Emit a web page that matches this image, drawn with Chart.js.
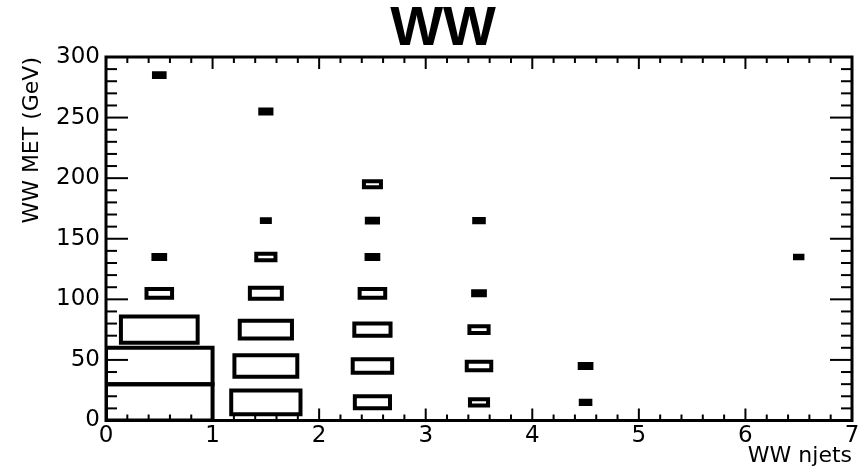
<!DOCTYPE html>
<html>
<head>
<meta charset="utf-8">
<title>WW</title>
<script src="https://cdn.jsdelivr.net/npm/chart.js@4.4.0/dist/chart.umd.min.js"></script>
<style>
  html, body { margin: 0; padding: 0; background: #fff; }
  #wrap { width: 865px; height: 467px; }
</style>
</head>
<body>
<div id="wrap"><canvas id="wwChart"></canvas></div>
<script>
// bin edges: njets in steps of 1, MET in steps of 30 GeV
const njetEdges = [0, 1, 2, 3, 4, 5, 6, 7];
const metEdges = [0, 30, 60, 90, 120, 150, 180, 210, 240, 270, 300];

// bin contents per njets bin, MET bins from low to high
const njet0 = [100, 100, 72, 24, 11, 0, 0, 0, 0, 10];
const njet1 = [65, 59, 49, 30, 18, 7.5, 0, 0, 10.5, 0];
const njet2 = [33, 37, 34, 24, 11, 10.5, 16, 0, 0, 0];
const njet3 = [17, 23, 18, 11, 0, 9, 0, 0, 0, 0];
const njet4 = [9, 11, 0, 0, 0, 0, 0, 0, 0, 0];
const njet5 = [0, 0, 0, 0, 0, 0, 0, 0, 0, 0];
const njet6 = [0, 0, 0, 0, 7, 0, 0, 0, 0, 0];
const zMax = 100;

// axis ticks
const xTicks = [0, 1, 2, 3, 4, 5, 6, 7];
const yTicks = [0, 50, 100, 150, 200, 250, 300];
const xMinorStep = 0.2;
const yMinorStep = 10;

const columns = [njet0, njet1, njet2, njet3, njet4, njet5, njet6];

// one closed outline per filled bin, size proportional to the content
const boxes = [];
columns.forEach((col, i) => {
  col.forEach((z, j) => {
    if (z <= 0) return;
    const xc = (njetEdges[i] + njetEdges[i + 1]) / 2;
    const yc = (metEdges[j] + metEdges[j + 1]) / 2;
    const dx = ((njetEdges[i + 1] - njetEdges[i]) / 2) * (z / zMax);
    const dy = ((metEdges[j + 1] - metEdges[j]) / 2) * (z / zMax);
    boxes.push({
      data: [
        { x: xc - dx, y: yc - dy },
        { x: xc + dx, y: yc - dy },
        { x: xc + dx, y: yc + dy },
        { x: xc - dx, y: yc + dy },
        { x: xc - dx, y: yc - dy },
      ],
      showLine: true,
      fill: false,
      borderColor: "#000",
      borderWidth: 4,
      borderJoinStyle: "miter",
      borderCapStyle: "square",
      pointRadius: 0,
      tension: 0,
    });
  });
});

// frame with inward ticks on all four sides
const frameTicks = {
  id: "frameTicks",
  afterDatasetsDraw(chart) {
    const { ctx, chartArea: a, scales } = chart;
    const x = scales.x, y = scales.y;
    const seg = (x1, y1, x2, y2) => {
      ctx.beginPath();
      ctx.moveTo(x1, y1);
      ctx.lineTo(x2, y2);
      ctx.stroke();
    };
    ctx.save();
    ctx.strokeStyle = "#000";
    ctx.lineWidth = 2;
    const nx = Math.round((x.max - x.min) / xMinorStep);
    for (let k = 0; k <= nx; k++) {
      const px = x.getPixelForValue(x.min + k * xMinorStep);
      const len = k % 5 === 0 ? 12 : 6;
      seg(px, a.bottom, px, a.bottom - len);
      seg(px, a.top, px, a.top + len);
    }
    const ny = Math.round((y.max - y.min) / yMinorStep);
    for (let k = 0; k <= ny; k++) {
      const py = y.getPixelForValue(y.min + k * yMinorStep);
      const len = k % 5 === 0 ? 22 : 11;
      seg(a.left, py, a.left + len, py);
      seg(a.right, py, a.right - len, py);
    }
    ctx.lineWidth = 3;
    ctx.strokeRect(a.left, a.top, a.right - a.left, a.bottom - a.top);
    ctx.restore();
  },
};

const tickFont = { family: "DejaVu Sans", size: 23 };
const titleFont = { family: "DejaVu Sans", size: 22, lineHeight: 1 };

const chart = new Chart(document.getElementById("wwChart"), {
  type: "scatter",
  data: { datasets: boxes },
  options: {
    responsive: true,
    maintainAspectRatio: false,
    animation: false,
    events: [],
    layout: { padding: { left: 34, right: 13, top: 0, bottom: 0 } },
    plugins: {
      legend: { display: false },
      tooltip: { enabled: false },
      title: {
        display: true,
        text: "WW",
        color: "#000",
        font: { family: "Liberation Sans", size: 56, weight: "bold", lineHeight: 0.9 },
        padding: { top: 4, bottom: 2.6 },
      },
    },
    scales: {
      x: {
        type: "linear",
        min: 0,
        max: 7,
        afterFit: (s) => { s.height = 46.5; },
        afterBuildTicks: (s) => { s.ticks = xTicks.map((v) => ({ value: v })); },
        grid: { display: false, drawTicks: false },
        border: { display: false },
        ticks: { color: "#000", font: tickFont, padding: 2, autoSkip: false, maxRotation: 0 },
        title: {
          display: true,
          text: "WW njets",
          align: "end",
          color: "#000",
          font: titleFont,
          padding: { top: 1, bottom: 0 },
        },
      },
      y: {
        type: "linear",
        min: 0,
        max: 300,
        afterFit: (s) => { s.width = 72; },
        afterBuildTicks: (s) => { s.ticks = yTicks.map((v) => ({ value: v })); },
        grid: { display: false, drawTicks: false },
        border: { display: false },
        ticks: { color: "#000", font: tickFont, padding: 6, autoSkip: false },
        title: {
          display: true,
          text: "WW MET (GeV)",
          align: "end",
          color: "#000",
          font: titleFont,
          padding: { top: -13, bottom: 0 },
        },
      },
    },
  },
  plugins: [frameTicks],
});
</script>
</body>
</html>
